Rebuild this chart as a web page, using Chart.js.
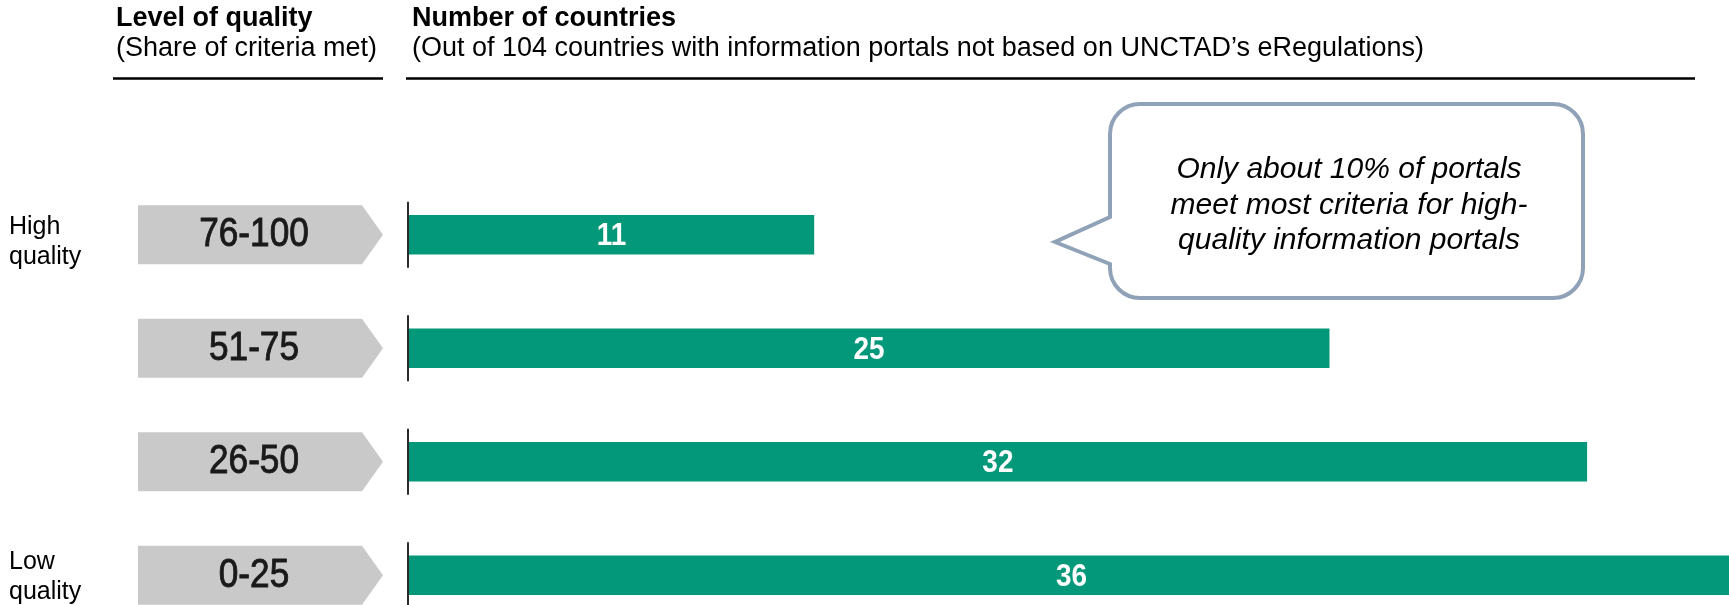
<!DOCTYPE html>
<html>
<head>
<meta charset="utf-8">
<script src="https://cdn.jsdelivr.net/npm/chart.js@4/dist/chart.umd.min.js"></script>
<style>
    html, body { margin: 0; padding: 0; background: #fff; overflow: hidden; }
    #wrap { position: absolute; left: 0; top: 0; width: 1740px; height: 640px; }
</style>
</head>
<body>
<div id="wrap"><canvas id="qualityChart"></canvas></div>
<script>
// quality bands (share of criteria met) and number of countries in each
const categories = ['76-100', '51-75', '26-50', '0-25'];
const countries = [11, 25, 32, 36];
const sideNotes = [['High', 'quality'], [], [], ['Low', 'quality']];

const FONT = '"Liberation Sans", Arial, Helvetica, sans-serif';
const GREEN = '#03987a';

// header block above the chart
function drawHeaders(ctx) {
    ctx.save();
    ctx.fillStyle = '#000';
    ctx.textAlign = 'left';
    ctx.textBaseline = 'alphabetic';
    ctx.font = 'bold 27px ' + FONT;
    ctx.fillText('Level of quality', 116, 26);
    ctx.fillText('Number of countries', 412, 26);
    ctx.font = '27px ' + FONT;
    ctx.fillText('(Share of criteria met)', 116, 56);
    ctx.fillText('(Out of 104 countries with information portals not based on UNCTAD\u2019s eRegulations)', 412, 56);

    ctx.strokeStyle = '#000';
    ctx.lineWidth = 2.5;
    ctx.beginPath();
    ctx.moveTo(113, 78.5); ctx.lineTo(383, 78.5);
    ctx.moveTo(406, 78.5); ctx.lineTo(1695, 78.5);
    ctx.stroke();
    ctx.restore();
}

// speech bubble with the note
function drawBubble(ctx) {
    const l = 1110, r = 1583, t = 104, b = 298, rad = 30;
    ctx.save();
    ctx.beginPath();
    ctx.moveTo(l + rad, t);
    ctx.lineTo(r - rad, t);
    ctx.arcTo(r, t, r, t + rad, rad);
    ctx.lineTo(r, b - rad);
    ctx.arcTo(r, b, r - rad, b, rad);
    ctx.lineTo(l + rad, b);
    ctx.arcTo(l, b, l, b - rad, rad);
    ctx.lineTo(l, 264);
    ctx.lineTo(1055, 242);
    ctx.lineTo(l, 217);
    ctx.lineTo(l, t + rad);
    ctx.arcTo(l, t, l + rad, t, rad);
    ctx.closePath();
    ctx.fillStyle = '#fff';
    ctx.fill();
    ctx.strokeStyle = '#8fa2b8';
    ctx.lineWidth = 4;
    ctx.stroke();

    ctx.fillStyle = '#000';
    ctx.font = 'italic 30px ' + FONT;
    ctx.textAlign = 'center';
    const lines = ['Only about 10% of portals', 'meet most criteria for high-', 'quality information portals'];
    lines.forEach((s, i) => ctx.fillText(s, 1349, 178 + i * 35.5));
    ctx.restore();
}

// grey arrow tags, axis ticks, side notes and the value labels
const decorations = {
    id: 'decorations',
    afterDatasetsDraw(chart) {
        const ctx = chart.ctx;
        const y = chart.scales.y;
        const meta = chart.getDatasetMeta(0);

        drawHeaders(ctx);

        categories.forEach((cat, i) => {
            const cy = y.getPixelForValue(i);

            // arrow tag
            ctx.save();
            ctx.fillStyle = '#c9c9c9';
            ctx.beginPath();
            ctx.moveTo(138, cy - 29.5);
            ctx.lineTo(362, cy - 29.5);
            ctx.lineTo(383, cy);
            ctx.lineTo(362, cy + 29.5);
            ctx.lineTo(138, cy + 29.5);
            ctx.closePath();
            ctx.fill();

            ctx.fillStyle = '#1a1a1a';
            ctx.strokeStyle = '#1a1a1a';
            ctx.lineWidth = 0.9;
            ctx.font = '40px ' + FONT;
            ctx.textAlign = 'center';
            ctx.translate(254, cy + 11.5);
            ctx.scale(0.88, 1);
            ctx.fillText(cat, 0, 0);
            ctx.strokeText(cat, 0, 0);
            ctx.restore();

            // short axis tick at the bar base
            ctx.save();
            ctx.strokeStyle = '#2b2b2b';
            ctx.lineWidth = 2;
            ctx.beginPath();
            ctx.moveTo(408, cy - 33);
            ctx.lineTo(408, cy + 33);
            ctx.stroke();
            ctx.restore();

            // high / low quality notes
            const note = sideNotes[i];
            if (note.length) {
                ctx.save();
                ctx.fillStyle = '#000';
                ctx.font = '25px ' + FONT;
                ctx.textAlign = 'left';
                const base = i === 0 ? cy - 1 : cy - 6;
                note.forEach((s, k) => ctx.fillText(s, 9, base + k * 30));
                ctx.restore();
            }

            // value label in the middle of the bar
            const bar = meta.data[i];
            ctx.save();
            ctx.fillStyle = '#fff';
            ctx.font = 'bold 31px ' + FONT;
            ctx.textAlign = 'center';
            ctx.translate((bar.base + bar.x) / 2, cy + 10.5);
            ctx.scale(0.9, 1);
            ctx.fillText(String(countries[i]), 0, 0);
            ctx.restore();
        });

        drawBubble(ctx);
    }
};

new Chart(document.getElementById('qualityChart'), {
    type: 'bar',
    data: {
        labels: categories,
        datasets: [{
            label: 'Number of countries',
            data: countries,
            backgroundColor: GREEN,
            borderWidth: 0,
            barThickness: 39
        }]
    },
    options: {
        indexAxis: 'y',
        responsive: true,
        maintainAspectRatio: false,
        devicePixelRatio: 1,
        animation: false,
        layout: { padding: { left: 409, right: 6, top: 178, bottom: 8 } },
        scales: {
            x: { display: false, min: 0, max: 36 },
            y: { display: false }
        },
        plugins: {
            legend: { display: false },
            tooltip: { enabled: false }
        }
    },
    plugins: [decorations]
});
</script>
</body>
</html>
